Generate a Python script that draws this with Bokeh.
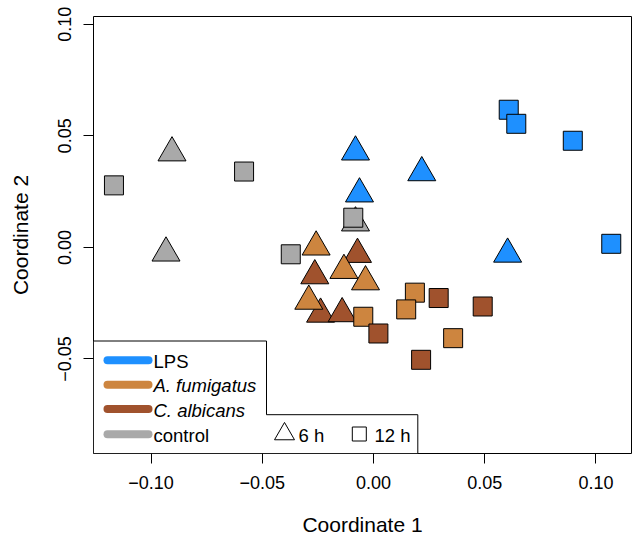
from bokeh.plotting import figure
from bokeh.models import Range1d, FixedTicker
from bokeh.core.properties import value
from bokeh.embed import file_html
from bokeh.resources import INLINE

# ---------------- data ----------------
groups = ["LPS", "A. fumigatus", "C. albicans", "control"]
group_colors = ["#1E90FF", "#CD853F", "#A0522D", "#A9A9A9"]
group_label_styles = ["normal", "italic", "italic", "normal"]
times = ["6 h", "12 h"]
time_markers = ["triangle", "square"]

lps_6h_x = [-0.0081, 0.0217, -0.0063, 0.0603]
lps_6h_y = [0.0428, 0.0335, 0.0240, -0.0030]
lps_12h_x = [0.0608, 0.0642, 0.0896, 0.1069]
lps_12h_y = [0.0617, 0.0554, 0.0478, 0.0016]

afu_6h_x = [-0.0258, -0.0133, -0.0036, -0.0291]
afu_6h_y = [0.0002, -0.0103, -0.0154, -0.0241]
afu_12h_x = [-0.0046, 0.0186, 0.0147, 0.0358]
afu_12h_y = [-0.0311, -0.0203, -0.0278, -0.0407]

cal_6h_x = [-0.0072, -0.0264, -0.0238, -0.0141]
cal_6h_y = [-0.0031, -0.0127, -0.0299, -0.0297]
cal_12h_x = [0.0022, 0.0293, 0.0491, 0.0214]
cal_12h_y = [-0.0386, -0.0227, -0.0265, -0.0504]

ctl_6h_x = [-0.0906, -0.0933, -0.0081]
ctl_6h_y = [0.0424, -0.0025, 0.0110]
ctl_12h_x = [-0.1167, -0.0582, -0.0372, -0.0091]
ctl_12h_y = [0.0278, 0.0340, -0.0031, 0.0133]

x_ticks = [-0.10, -0.05, 0.00, 0.05, 0.10]
x_tick_labels = ["\u22120.10", "\u22120.05", "0.00", "0.05", "0.10"]
y_ticks = [-0.05, 0.00, 0.05, 0.10]
y_tick_labels = ["\u22120.05", "0.00", "0.05", "0.10"]

x_title = "Coordinate 1"
y_title = "Coordinate 2"

X_START, X_END = -0.1259, 0.1160
Y_START, Y_END = -0.0924, 0.1035

# ---------------- figure ----------------
FONT = "Liberation Sans"
W, H = 538, 437

p = figure(frame_width=W, frame_height=H,
           min_border_left=93, min_border_right=7,
           min_border_top=16, min_border_bottom=90,
           x_range=Range1d(X_START, X_END), y_range=Range1d(Y_START, Y_END),
           output_backend="svg", toolbar_location=None)
p.xgrid.visible = False
p.ygrid.visible = False
p.outline_line_color = "black"
p.outline_line_width = 1
p.outline_line_alpha = 1
p.background_fill_color = "white"
p.border_fill_color = "white"

for ax, ticks, labels, title in [(p.xaxis[0], x_ticks, x_tick_labels, x_title),
                                 (p.yaxis[0], y_ticks, y_tick_labels, y_title)]:
    ax.ticker = FixedTicker(ticks=ticks)
    ax.major_label_overrides = {t: l for t, l in zip(ticks, labels)}
    ax.axis_line_color = None
    ax.major_tick_out = 10
    ax.major_tick_in = 0
    ax.major_tick_line_color = "black"
    ax.minor_tick_line_color = None
    ax.major_label_text_font = FONT
    ax.major_label_text_font_size = "18px"
    ax.major_label_text_color = "black"
    ax.major_label_standoff = 12
    ax.axis_label = title
    ax.axis_label_text_font = FONT
    ax.axis_label_text_font_size = "21px"
    ax.axis_label_text_font_style = "normal"
    ax.axis_label_text_color = "black"

p.xaxis[0].axis_label_standoff = 21
p.yaxis[0].axis_label_standoff = 24
p.yaxis[0].major_label_orientation = "vertical"

# ---------------- points ----------------
series = [
    (3, 0, ctl_6h_x, ctl_6h_y),
    (0, 0, lps_6h_x, lps_6h_y),
    (2, 0, cal_6h_x, cal_6h_y),
    (1, 0, afu_6h_x, afu_6h_y),
    (3, 1, ctl_12h_x, ctl_12h_y),
    (1, 1, afu_12h_x, afu_12h_y),
    (2, 1, cal_12h_x, cal_12h_y),
    (0, 1, lps_12h_x, lps_12h_y),
]
marker_sizes = {"triangle": 28, "square": 19}
for gi, ti, xs, ys in series:
    m = time_markers[ti]
    p.scatter(xs, ys, marker=m, size=marker_sizes[m],
              fill_color=group_colors[gi], line_color="black", line_width=1)

# ---------------- legend (positions in frame pixels) ----------------
def fx(px):
    return X_START + px / W * (X_END - X_START)

def fy(py):
    return Y_END - py / H * (Y_END - Y_START)

box = [(0, 324.5), (173, 324.5), (173, 398.2), (324.3, 398.2), (324.3, H), (0, H)]
p.patch([fx(a) for a, b in box], [fy(b) for a, b in box],
        fill_color="white", line_color="black", line_width=1)

row_y = [343.8, 368.2, 392.5, 417.8]
p.segment(x0=[fx(14)] * 4, x1=[fx(55)] * 4,
          y0=[fy(r) for r in row_y], y1=[fy(r) for r in row_y],
          line_color=group_colors, line_width=8, line_cap="round")
p.text(x=[fx(60)] * 4, y=[fy(r + 1) for r in row_y], text=groups,
       text_font=value(FONT), text_font_size="18.5px",
       text_font_style=group_label_styles, text_color="black",
       text_baseline="middle", text_align="left")

leg2_marker_x = [191, 265.8]
leg2_text_x = [205, 281]
leg2_sizes = [20, 14]
for i in range(2):
    p.scatter([fx(leg2_marker_x[i])], [fy(417.5)], marker=time_markers[i],
              size=leg2_sizes[i], fill_color=None, line_color="black", line_width=1)
p.text(x=[fx(v) for v in leg2_text_x], y=[fy(418.8)] * 2, text=times,
       text_font=value(FONT), text_font_size="18.5px", text_color="black",
       text_baseline="middle", text_align="left")

open("out.html", "w").write(file_html(p, INLINE))
